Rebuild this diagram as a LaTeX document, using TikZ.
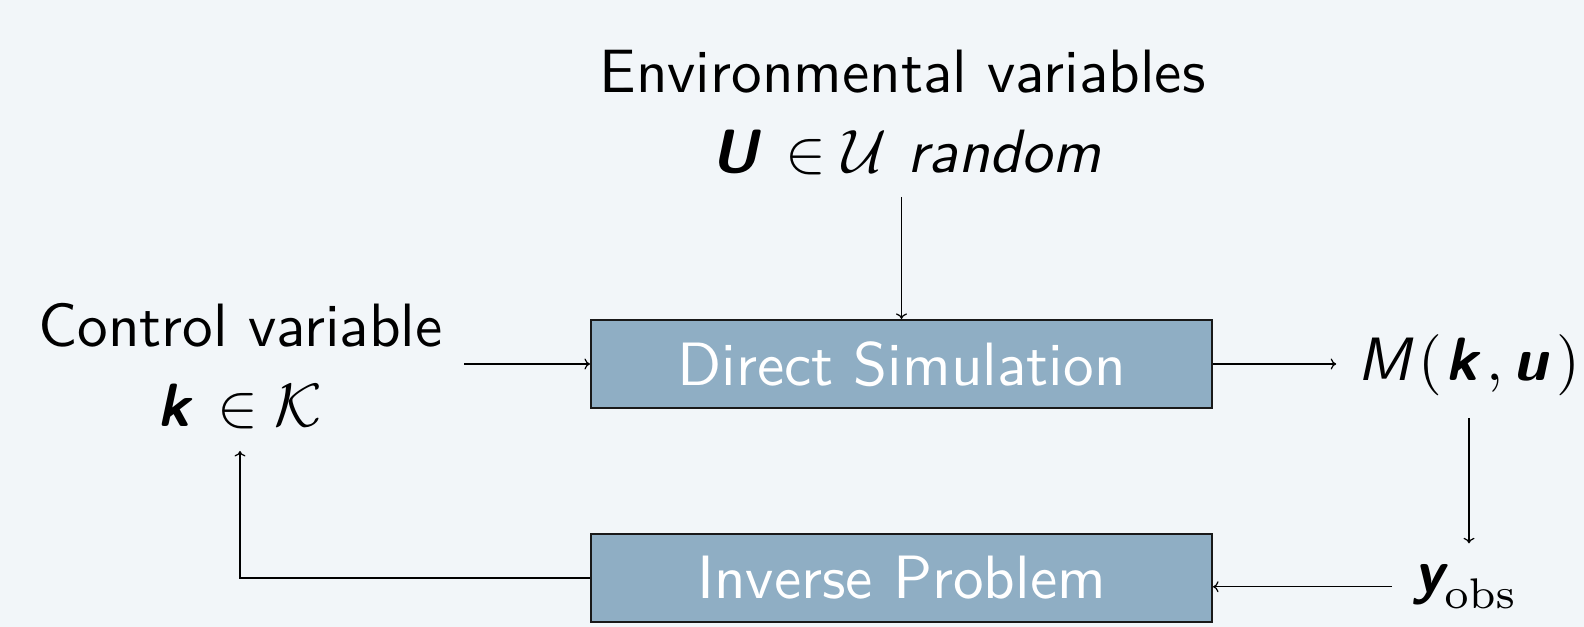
\documentclass[tikz,border=0pt]{standalone}
\usepackage{amsmath}
\usetikzlibrary{arrows.meta}
\definecolor{bgc}{RGB}{242,246,249}
\definecolor{boxc}{RGB}{143,174,196}
\newcommand{\bv}[1]{\mbox{\sffamily\bfseries\slshape #1}}
\newcommand{\sv}[1]{\mbox{\sffamily\slshape #1}}
\begin{document}
\begin{tikzpicture}[x=0.1634pt,y=-0.1634pt,
  every node/.style={font=\sffamily},
  txt/.style={anchor=base, text=black},
  blockbox/.style={draw=black!90, line width=0.35pt, fill=boxc, text=white,
    minimum width=101.47pt, minimum height=14.38pt, inner sep=0pt},
  conn/.style={line width=0.2pt, -{To[length=0.9pt,width=1.8pt]}}]
\useasboundingbox[fill=bgc] (0,0) rectangle (1584,627);
\node[txt] (env1) at (902.5,93) {Environmental variables};
\node[txt] (env2) at (906,173) {$\bv{U}\mkern3mu\in\mathcal{U}$ \textit{random}};
\node[txt] (ctrl1) at (240.5,347) {Control variable};
\node[txt] (ctrl2) at (240,427) {$\bv{k}\mkern3mu\in\mathcal{K}$};
\node[blockbox] (ds) at (901.5,364) {Direct Simulation};
\node[blockbox] (ip) at (901.5,578) {Inverse Problem};
\node[txt] (M) at (1469,381) {$\sv{M}\mkern2mu(\mkern1mu\bv{k}\mkern2.5mu,\bv{u}\mkern2.5mu)$};
\node[txt] (yobs) at (1466,593) {$\bv{y}_{\mathrm{obs}}$};
\draw[conn] (env2.south -| ds.north) -- (ds.north);
\draw[conn] (ctrl1.east |- ds.west) -- (ds.west);
\draw[conn] (ds.east) -- (M.west |- ds.east);
\draw[conn] (M.south) -- (M.south |- yobs.north);
\draw[conn] (yobs.west) -- (ip.east |- yobs.west);
\draw[conn] (ip.west) -| (ctrl2.south);
\end{tikzpicture}
\end{document}
